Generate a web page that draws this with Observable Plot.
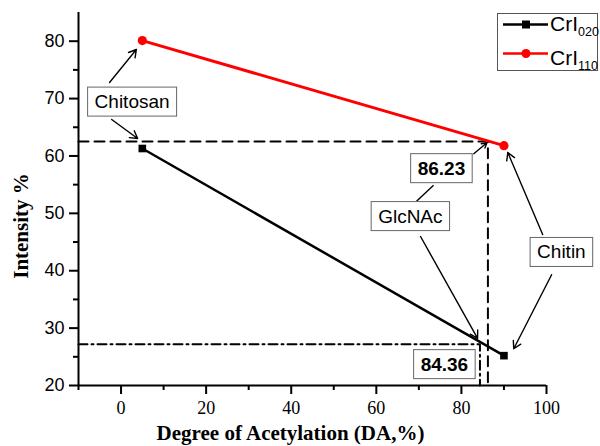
<!DOCTYPE html>
<html><head><meta charset="utf-8">
<script src="https://cdn.jsdelivr.net/npm/d3@7"></script>
<script src="https://cdn.jsdelivr.net/npm/@observablehq/plot@0.6"></script>
<style>
body{margin:0;background:#fff;}
#wrap{position:relative;width:600px;height:446px;overflow:hidden;}
#legend{position:absolute;left:497px;top:13px;width:101px;height:58px;border:1px solid #555;background:#fff;box-sizing:border-box;font-family:"Liberation Sans",Arial,sans-serif;font-size:21px;line-height:1;}
#legend .t{position:absolute;left:52px;white-space:nowrap;}
#legend .t span{font-size:12.5px;vertical-align:-5px;}
</style></head><body>
<div id="wrap">
  <div id="legend">
    <svg width="52" height="56" style="position:absolute;left:0;top:0">
      <line x1="5" x2="50" y1="10.5" y2="10.5" stroke="black" stroke-width="2.5"/>
      <rect x="24" y="6.5" width="8" height="8" fill="black"/>
      <line x1="5" x2="50" y1="39.5" y2="39.5" stroke="red" stroke-width="2.5"/>
      <circle cx="28" cy="39.5" r="4.5" fill="red"/>
    </svg>
    <div class="t" style="top:-1px">CrI<span>020</span></div>
    <div class="t" style="top:33px">CrI<span>110</span></div>
  </div>
</div>
<script>
// ---- data ----
const degreeDA = [5, 90];              // Chitosan, Chitin
const crI020 = [61.3, 25.2];
const crI110 = [80.1, 61.8];
const xTicks = [0, 20, 40, 60, 80, 100];
const xMinor = [-10, 10, 30, 50, 70, 90];
const yTicks = [20, 30, 40, 50, 60, 70, 80];
const yMinor = [25, 35, 45, 55, 65, 75];
// reference lines
const da110 = 86.23, int110 = 62.5;
const da020 = 84.36, int020 = 27.2;
// annotation labels (data coordinates)
const labelText = ["Chitosan", "GlcNAc", "Chitin"];
const labelX = [2.6, 68.0, 103.5];
const labelY = [69.4, 49.45, 43.2];
const valueText = ["86.23", "84.36"];
const valueX = [75.3, 76.0];
const valueY = [57.8, 23.65];
// arrows (data coordinates)
const arrowX1 = [-2.7, -2.2, 82.9, 70.4, 99.1, 101.2];
const arrowY1 = [72.8, 66.35, 60.4, 45.96, 46.3, 39.3];
const arrowX2 = [3.6, 3.9, 86.0, 83.8, 90.9, 92.3];
const arrowY2 = [78.55, 63.04, 62.3, 28.2, 60.6, 26.4];
// connector between value box and label box
const linkX1 = [69.45], linkY1 = [52.1], linkX2 = [73.45], linkY2 = [54.9];

const sans = "'Liberation Sans', Arial, sans-serif";
const serif = "'Liberation Serif', 'Times New Roman', serif";

const rows020 = degreeDA.map((d, i) => ({da: d, v: crI020[i]}));
const rows110 = degreeDA.map((d, i) => ({da: d, v: crI110[i]}));
const dash110 = [{da: -10, v: int110}, {da: da110, v: int110}, {da: da110, v: 20}];
const dash020 = [{da: -10, v: int020}, {da: da020, v: int020}, {da: da020, v: 20}];
const labels = labelText.map((t, i) => ({t, x: labelX[i], y: labelY[i]}));
const values = valueText.map((t, i) => ({t, x: valueX[i], y: valueY[i]}));
const arrows = arrowX1.map((d, i) => ({x1: d, y1: arrowY1[i], x2: arrowX2[i], y2: arrowY2[i]}));
const links = linkX1.map((d, i) => ({x1: d, y1: linkY1[i], x2: linkX2[i], y2: linkY2[i]}));

const chart = Plot.plot({
  width: 600, height: 446,
  marginLeft: 78, marginRight: 54, marginTop: 12, marginBottom: 61,
  x: {domain: [-10, 100], label: null},
  y: {domain: [20, 85], label: null},
  style: {background: "transparent", fontFamily: sans},
  marks: [
    Plot.line(dash110, {x: "da", y: "v", stroke: "black", strokeWidth: 2, strokeDasharray: "10,6"}),
    Plot.line(dash020, {x: "da", y: "v", stroke: "black", strokeWidth: 2, strokeDasharray: "9,4,2,4"}),
    Plot.ruleX([-10], {stroke: "black", strokeWidth: 2}),
    Plot.ruleY([20], {stroke: "black", strokeWidth: 2}),
    Plot.axisX(xTicks, {tickSize: 9, tickPadding: 7, strokeWidth: 2, fontSize: 18, fontFamily: serif, label: null, tickFormat: d => d}),
    Plot.axisX(xMinor, {tickSize: 5, strokeWidth: 2, label: null, tickFormat: () => ""}),
    Plot.axisY(yTicks, {tickSize: 9, tickPadding: 5, strokeWidth: 2, fontSize: 18, fontFamily: sans, label: null, tickFormat: d => d}),
    Plot.axisY(yMinor, {tickSize: 5, strokeWidth: 2, label: null, tickFormat: () => ""}),
    Plot.line(rows110, {x: "da", y: "v", stroke: "red", strokeWidth: 3}),
    Plot.dot(rows110, {x: "da", y: "v", r: 4.6, fill: "red", stroke: "none"}),
    Plot.line(rows020, {x: "da", y: "v", stroke: "black", strokeWidth: 2.5}),
    Plot.dot(rows020, {x: "da", y: "v", r: 4.3, symbol: "square", fill: "black", stroke: "none"}),
    Plot.arrow(arrows, {x1: "x1", y1: "y1", x2: "x2", y2: "y2", stroke: "black", strokeWidth: 1.4, headLength: 9, bend: 0}),
    Plot.link(links, {x1: "x1", y1: "y1", x2: "x2", y2: "y2", stroke: "black", strokeWidth: 1.4}),
    Plot.text(labels, {x: "x", y: "y", text: "t", fontSize: 19, fontFamily: sans, fill: "black", textAnchor: "middle", lineAnchor: "middle"}),
    Plot.text(values, {x: "x", y: "y", text: "t", fontSize: 19, fontWeight: "bold", fontFamily: sans, fill: "black", textAnchor: "middle", lineAnchor: "middle"}),
    Plot.text(["Degree of Acetylation (DA,%)"], {frameAnchor: "bottom", dx: -22, dy: 48, fontSize: 21, fontWeight: "bold", fontFamily: serif, fill: "black", textAnchor: "middle", lineAnchor: "middle"}),
    Plot.text(["Intensity %"], {frameAnchor: "left", rotate: -90, dx: -57, dy: 27, fontSize: 21, fontWeight: "bold", fontFamily: serif, fill: "black", textAnchor: "middle", lineAnchor: "middle"})
  ]
});
const wrap = document.getElementById("wrap");
wrap.insertBefore(chart, wrap.firstChild);

// draw white framed boxes behind annotation texts
const boxed = new Set([...labelText, ...valueText]);
d3.select(chart).selectAll("text").each(function() {
  if (!boxed.has(this.textContent)) return;
  const b = this.getBBox();
  const padX = 7, padY = 4;
  const r = document.createElementNS("http://www.w3.org/2000/svg", "rect");
  r.setAttribute("x", b.x - padX);
  r.setAttribute("y", b.y - padY);
  r.setAttribute("width", b.width + 2 * padX);
  r.setAttribute("height", b.height + 2 * padY);
  r.setAttribute("fill", "white");
  r.setAttribute("stroke", "#666");
  r.setAttribute("stroke-width", "1");
  const tr = this.getAttribute("transform");
  if (tr) r.setAttribute("transform", tr);
  this.parentNode.insertBefore(r, this);
});
</script>
</body></html>
